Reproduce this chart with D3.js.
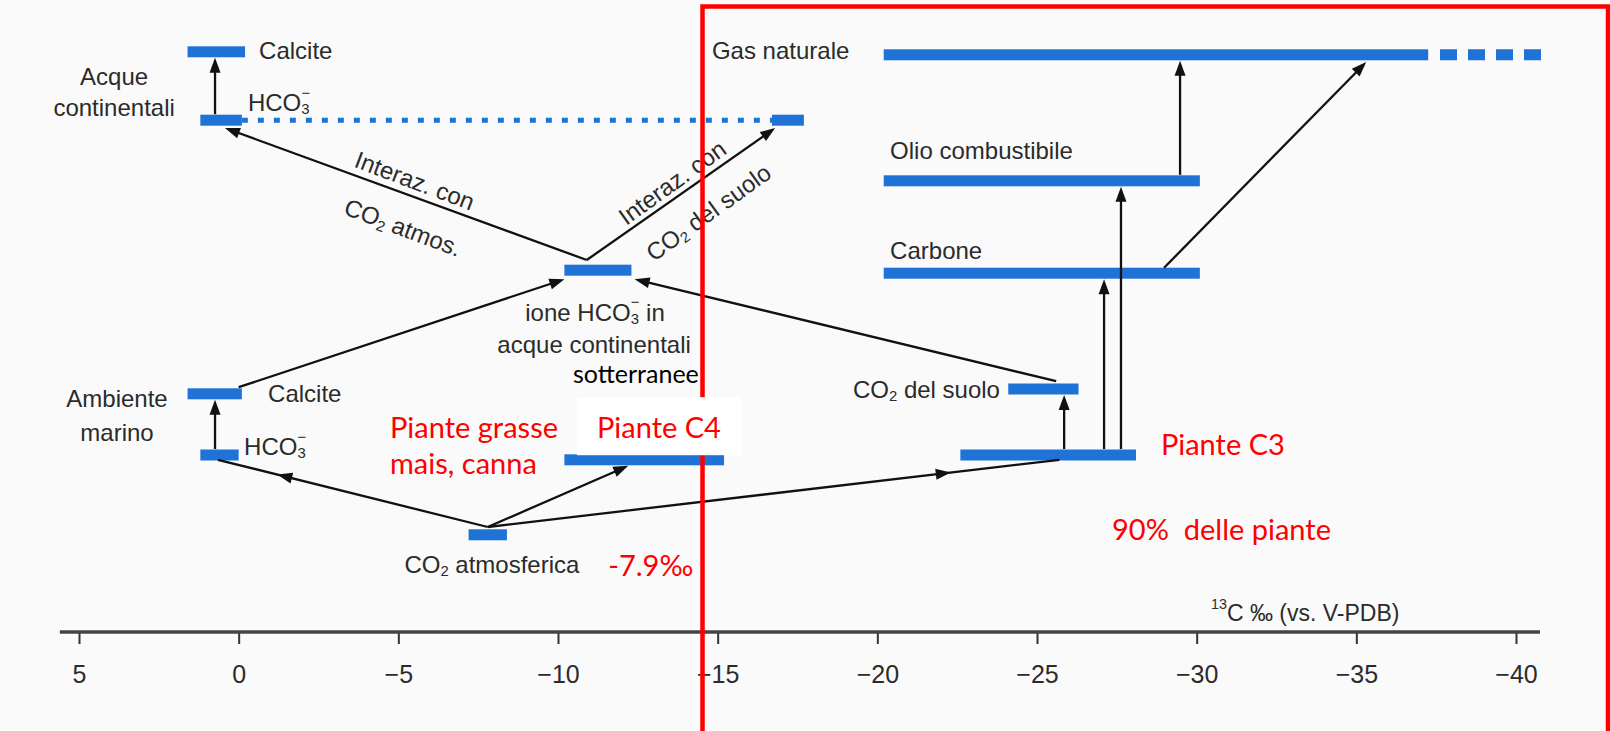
<!DOCTYPE html>
<html>
<head>
<meta charset="utf-8">
<script src="https://cdn.jsdelivr.net/npm/d3@7/dist/d3.min.js"></script>
<style>
    html, body { margin: 0; padding: 0; background: #fafafa; }
    svg { display: block; }
</style>
</head>
<body>
<div id="chart"></div>
<script>
const W = 1610, H = 731;

// tick values on the d13C axis (per mil vs V-PDB)
const ticks = [5, 0, -5, -10, -15, -20, -25, -30, -35, -40];

// ranges of each reservoir (per mil) and the row it sits on (arbitrary height units)
const barNames = ["Calcite cont.", "HCO3 cont.", "HCO3 cont. suolo", "ione HCO3", "Calcite marina", "HCO3 marino",
    "CO2 atmosferica", "Piante C4", "Piante C3", "CO2 del suolo", "Carbone", "Olio combustibile", "Gas naturale"];
const barFrom = [1.6, 1.2, -16.7, -10.2, 1.6, 1.2, -7.2, -10.2, -22.6, -24.1, -20.2, -20.2, -20.2];
const barTo = [-0.2, -0.1, -17.7, -12.3, -0.1, 0.0, -8.4, -15.2, -28.1, -26.3, -30.1, -30.1, -37.25];
const barLevel = [96.7, 85.3, 85.3, 60.3, 39.7, 29.5, 16.2, 28.7, 29.5, 40.5, 59.8, 75.2, 96.2];

// dotted link between the two continental HCO3- ends, and the open tail of natural gas: [from, to, level]
const dottedLink = [-0.1, -16.7, 85.3];
const gasTail = [-37.62, -40.88, 96.2];

// arrows: start (per mil, level) -> end (per mil, level); head = where the head sits (1 = at the tip)
const arrowFromD = [0.74, 0.74, -10.9, -10.9, 0.0, -25.6, -7.8, -7.8, -7.8, -25.85, -27.1, -27.63, -29.48, -28.98];
const arrowFromL = [86.3, 30.5, 62.0, 62.0, 40.8, 41.8, 17.5, 17.5, 17.5, 30.5, 30.5, 30.5, 76.2, 60.7];
const arrowToD = [0.74, 0.74, 0.43, -16.8, -10.2, -12.4, 0.65, -12.2, -25.7, -25.85, -27.1, -27.63, -29.48, -35.31];
const arrowToL = [95.7, 38.7, 84.0, 84.0, 58.8, 58.8, 28.7, 27.7, 28.7, 39.5, 58.8, 74.2, 95.2, 95.0];
const arrowHead = [1, 1, 1, 1, 1, 1, 0.78, 1, 0.81, 1, 1, 1, 1, 1];

// printed labels ("_x" subscript, "^x" superscript)
const labelText = ["Calcite", "Acque", "continentali", "HCO_3^−", "Interaz. con", "CO_2 atmos.", "Interaz. con",
    "CO_2 del suolo", "ione HCO_3^− in", "acque continentali", "Ambiente", "marino", "Calcite", "HCO_3^−",
    "CO_2 atmosferica", "CO_2 del suolo", "Gas naturale", "Olio combustibile", "Carbone"];
const labelD = [-0.64, 3.9, 3.9, -0.29, -5.52, -5.15, -13.57, -14.7, -11.16, -11.13, 3.81, 3.81, -0.92, -0.17,
    -7.93, -23.84, -14.82, -20.4, -20.4];
const labelLevel = [97.0, 92.7, 87.5, 88.3, 75.3, 67.5, 75.0, 70.0, 53.4, 48.0, 39.0, 33.3, 39.8, 31.0,
    11.3, 40.5, 97.0, 80.3, 63.7];
const labelAnchor = ["start", "middle", "middle", "start", "middle", "middle", "middle", "middle", "middle", "middle",
    "middle", "middle", "start", "start", "middle", "end", "start", "start", "start"];
const labelAngle = [0, 0, 0, 0, 20.7, 20.7, -35.7, -35.7, 0, 0, 0, 0, 0, 0, 0, 0, 0, 0, 0];

const axisTitle = "^1^3C ‰ (vs. V-PDB)";
const axisTitlePos = [-30.45, 3.2];

// red notes added on top of the figure (only "Piante C4" sits on a white patch)
const noteText = ["Piante grasse", "mais, canna", "Piante C4", "-7.9‰", "Piante C3", "90%\u00a0 delle piante"];
const noteD = [-4.74, -4.74, -11.22, -11.57, -28.88, -27.35];
const noteLevel = [34.3, 28.2, 34.3, 11.2, 31.5, 17.3];
const notePatch = [false, false, true, false, false, false];
const extraNote = ["sotterranee", -12.44, 43.1];

const blue = "#1f72d6";
const ink = "#2b2b2b";

const x = d3.scaleLinear().domain([5, -40]).range([79, 1516]);
const y = d3.scaleLinear().domain([0, 100]).range([632, 32]);

const svg = d3
    .select("#chart")
    .append("svg")
    .attr("width", W)
    .attr("height", H);

svg.append("rect").attr("width", W).attr("height", H).attr("fill", "#fafafa");

// write a label with sub/superscripts
function richText(sel, str, fs) {
    const parts = [];
    let i = 0;
    while (i < str.length) {
        const c = str[i];
        const k = c === "_" ? "sub" : c === "^" ? "sup" : "n";
        const t = k === "n" ? c : str[i + 1];
        i += k === "n" ? 1 : 2;
        const last = parts[parts.length - 1];
        if (last && last.k === k) last.t += t;
        else parts.push({ t: t, k: k });
    }
    let cur = 0, prev = "n";
    parts.forEach((p) => {
        const target = p.k === "sub" ? 0.3 * fs : p.k === "sup" ? -0.38 * fs : 0;
        const ts = sel.append("tspan").text(p.t).attr("dy", target - cur);
        if (p.k !== "n") ts.attr("font-size", fs * 0.62);
        if (p.k === "sup" && prev === "sub") ts.attr("dx", -fs * 0.34);
        cur = target;
        prev = p.k;
    });
}

// dotted link
svg.append("line")
    .attr("x1", x(dottedLink[0]))
    .attr("x2", x(dottedLink[1]))
    .attr("y1", y(dottedLink[2]))
    .attr("y2", y(dottedLink[2]))
    .attr("stroke", blue)
    .attr("stroke-width", 5)
    .attr("stroke-dasharray", "6,10");

// bars
svg.append("g")
    .selectAll("rect")
    .data(barNames)
    .enter()
    .append("rect")
    .attr("x", (d, i) => Math.min(x(barFrom[i]), x(barTo[i])))
    .attr("width", (d, i) => Math.abs(x(barTo[i]) - x(barFrom[i])))
    .attr("y", (d, i) => y(barLevel[i]) - 5.5)
    .attr("height", 11)
    .attr("fill", blue);

svg.append("line")
    .attr("x1", x(gasTail[0]))
    .attr("x2", x(gasTail[1]))
    .attr("y1", y(gasTail[2]))
    .attr("y2", y(gasTail[2]))
    .attr("stroke", blue)
    .attr("stroke-width", 11)
    .attr("stroke-dasharray", "17,11");

// arrows
const arrows = svg.append("g");
arrowFromD.forEach((d, i) => {
    const x1 = x(arrowFromD[i]), y1 = y(arrowFromL[i]);
    const x2 = x(arrowToD[i]), y2 = y(arrowToL[i]);
    const ang = Math.atan2(y2 - y1, x2 - x1);
    const len = Math.hypot(x2 - x1, y2 - y1);
    const tipLen = len * arrowHead[i];
    const hx = x1 + Math.cos(ang) * tipLen, hy = y1 + Math.sin(ang) * tipLen;
    arrows.append("line")
        .attr("x1", x1).attr("y1", y1)
        .attr("x2", arrowHead[i] === 1 ? hx - Math.cos(ang) * 8 : x2)
        .attr("y2", arrowHead[i] === 1 ? hy - Math.sin(ang) * 8 : y2)
        .attr("stroke", "#111")
        .attr("stroke-width", 2.3);
    const hl = 15, hw = 5.5;
    const bx = hx - Math.cos(ang) * hl, by = hy - Math.sin(ang) * hl;
    const pts = [
        [hx, hy],
        [bx + Math.sin(ang) * hw, by - Math.cos(ang) * hw],
        [bx - Math.sin(ang) * hw, by + Math.cos(ang) * hw]
    ];
    arrows.append("path")
        .attr("d", "M" + pts.map((p) => p.join(",")).join("L") + "Z")
        .attr("fill", "#111");
});

// printed labels
const labels = svg.append("g")
    .attr("font-family", "'Liberation Sans', Arial, sans-serif")
    .attr("font-size", 24)
    .attr("fill", ink);
labelText.forEach((t, i) => {
    const txt = labels.append("text")
        .attr("transform", "translate(" + x(labelD[i]) + "," + y(labelLevel[i]) + ") rotate(" + labelAngle[i] + ")")
        .attr("text-anchor", labelAnchor[i])
        .attr("dominant-baseline", "central");
    richText(txt, t, 24);
});

// axis
const axisG = svg.append("g")
    .attr("transform", "translate(0," + y(0) + ")")
    .call(
        d3.axisBottom(x)
            .tickValues(ticks)
            .tickSize(12)
            .tickPadding(21)
            .tickFormat(d3.format("d"))
    );
axisG.select(".domain").remove();
axisG.selectAll(".tick line").attr("stroke", "#333").attr("stroke-width", 2);
axisG.selectAll(".tick text")
    .attr("font-family", "'Liberation Sans', Arial, sans-serif")
    .attr("font-size", 25)
    .attr("fill", ink);
axisG.append("line")
    .attr("x1", x(5.6))
    .attr("x2", x(-40.75))
    .attr("stroke", "#444")
    .attr("stroke-width", 3.5);

const title = svg.append("text")
    .attr("x", x(axisTitlePos[0]))
    .attr("y", y(axisTitlePos[1]))
    .attr("dominant-baseline", "central")
    .attr("font-family", "'Liberation Sans', Arial, sans-serif")
    .attr("font-size", 23)
    .attr("fill", ink);
richText(title, axisTitle, 23);

// red frame
svg.append("rect")
    .attr("x", 702.5)
    .attr("y", 6.5)
    .attr("width", 905.5)
    .attr("height", 800)
    .attr("fill", "none")
    .attr("stroke", "#ff0000")
    .attr("stroke-width", 4.5);

// red notes; the white patches go down first so no text is hidden
const patches = svg.append("g");
const notes = svg.append("g");
noteText.forEach((t, i) => {
    const txt = notes.append("text")
        .attr("x", x(noteD[i]))
        .attr("y", y(noteLevel[i]))
        .attr("dominant-baseline", "central")
        .attr("font-family", "Lato, 'Open Sans', sans-serif")
        .attr("font-size", 29)
        .attr("fill", "#ff0000")
        .text(t);
    if (notePatch[i]) {
        const bb = txt.node().getBBox();
        patches.append("rect")
            .attr("fill", "#ffffff")
            .attr("x", bb.x - 20)
            .attr("y", bb.y + bb.height / 2 - 29)
            .attr("width", bb.width + 41)
            .attr("height", 58);
    }
});

svg.append("text")
    .attr("x", x(extraNote[1]))
    .attr("y", y(extraNote[2]))
    .attr("text-anchor", "middle")
    .attr("dominant-baseline", "central")
    .attr("font-family", "Lato, 'Open Sans', sans-serif")
    .attr("font-size", 25)
    .attr("fill", "#000")
    .text(extraNote[0]);
</script>
</body>
</html>
